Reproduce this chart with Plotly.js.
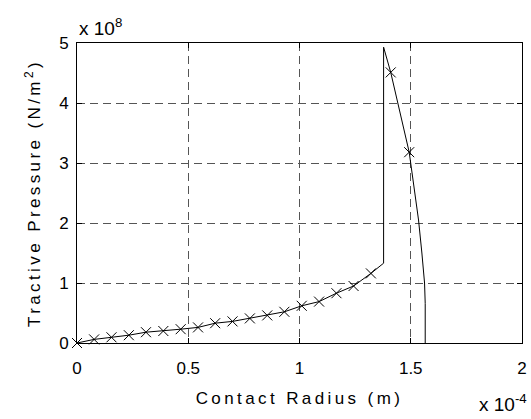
<!DOCTYPE html>
<html>
<head>
<meta charset="utf-8">
<script src="https://cdn.plot.ly/plotly-3.0.1.min.js"></script>
<style>
body{margin:0;padding:0;background:#fff;}
#chart{width:531px;height:419px;}
.xtitle,.ytitle{letter-spacing:3.4px;}
</style>
</head>
<body>
<div id="chart"></div>
<script>
// Contact radius in units of 1e-4 m, tractive pressure in units of 1e8 N/m^2
const markerRadius = [0, 0.077, 0.155, 0.233, 0.31, 0.388, 0.466, 0.544, 0.621, 0.699, 0.777, 0.855, 0.932, 1.01, 1.088, 1.166, 1.243, 1.321, 1.41, 1.493];
const markerPressure = [0, 0.06, 0.095, 0.13, 0.18, 0.2, 0.23, 0.26, 0.33, 0.36, 0.41, 0.46, 0.52, 0.62, 0.69, 0.83, 0.95, 1.16, 4.51, 3.18];

const lineRadius = [0, 0.077, 0.155, 0.233, 0.31, 0.388, 0.466, 0.544, 0.621, 0.699, 0.777, 0.855, 0.932, 1.01, 1.088, 1.166, 1.243, 1.321, 1.378, 1.378, 1.41, 1.493, 1.505, 1.535, 1.55, 1.562, 1.565, 1.565];
const linePressure = [0, 0.06, 0.095, 0.13, 0.18, 0.2, 0.23, 0.26, 0.33, 0.36, 0.41, 0.46, 0.52, 0.62, 0.69, 0.83, 0.95, 1.16, 1.33, 4.93, 4.51, 3.18, 2.83, 2.05, 1.5, 1.0, 0.66, 0];

const xTicks = [0, 0.5, 1, 1.5, 2];
const xTickText = ['0', '0.5', '1', '1.5', '2'];
const yTicks = [0, 1, 2, 3, 4, 5];
const yTickText = ['0', '1', '2', '3', '4', '5'];

const family = '"Liberation Sans", Arial, sans-serif';
const font = {family: family, size: 17, color: '#000'};
const titleFont = {family: family, size: 17, color: '#000'};
const annFont = {family: family, size: 19, color: '#000'};

const traces = [
  {x: lineRadius, y: linePressure, type: 'scatter', mode: 'lines',
   line: {color: '#000', width: 1}, hoverinfo: 'skip', cliponaxis: false},
  {x: markerRadius, y: markerPressure, type: 'scatter', mode: 'markers', cliponaxis: false,
   marker: {symbol: 'x-thin-open', size: 10, color: '#000', line: {color: '#000', width: 1}}}
];

const axisCommon = {
  showline: true, linecolor: '#000', linewidth: 1, mirror: 'ticks',
  ticks: 'inside', ticklen: 5, tickcolor: '#000', tickwidth: 1,
  showgrid: true, gridcolor: '#555', gridwidth: 1, griddash: '8px,5px',
  zeroline: false, tickfont: font, fixedrange: true
};

const layout = {
  width: 531, height: 419,
  margin: {l: 77, r: 9, t: 43, b: 76},
  paper_bgcolor: '#fff', plot_bgcolor: '#fff',
  showlegend: false,
  font: font,
  xaxis: Object.assign({}, axisCommon, {
    range: [0, 2], tickvals: xTicks, ticktext: xTickText, ticklabelstandoff: 10,
    title: {text: 'Contact Radius (m)', font: titleFont, standoff: 14}
  }),
  yaxis: Object.assign({}, axisCommon, {
    range: [0, 5], tickvals: yTicks, ticktext: yTickText, ticklabelstandoff: 4,
    title: {text: 'Tractive Pressure (N/m<sup>2</sup>)', font: titleFont, standoff: 14}
  }),
  annotations: [
    {xref: 'paper', yref: 'paper', x: 0, y: 1, xanchor: 'left', yanchor: 'bottom', yshift: 2,
     text: 'x 10<sup>8</sup>', showarrow: false, font: annFont},
    {xref: 'paper', yref: 'paper', x: 1, y: 0, xanchor: 'right', yanchor: 'top', yshift: -46, xshift: 7,
     text: 'x 10<sup>-4</sup>', showarrow: false, font: annFont}
  ]
};

Plotly.newPlot('chart', traces, layout, {displayModeBar: false, staticPlot: true});
</script>
</body>
</html>
